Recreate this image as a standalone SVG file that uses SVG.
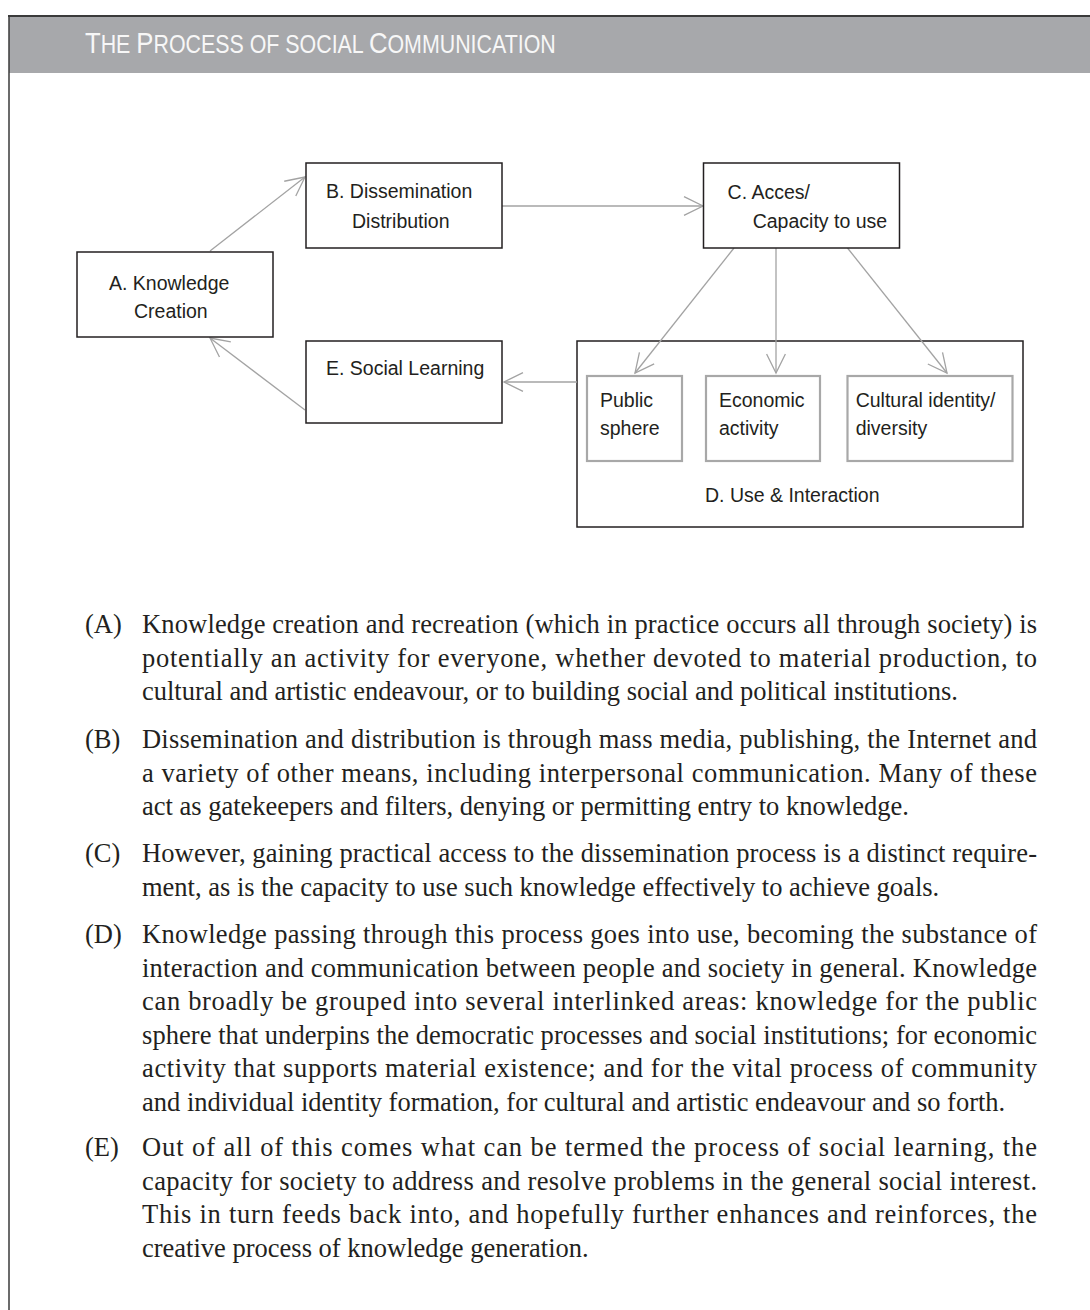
<svg xmlns="http://www.w3.org/2000/svg" width="1090" height="1310" viewBox="0 0 1090 1310">
<style>
.frame{stroke:#3a3a3a;fill:none}
.band{fill:#a7a8ab}
.title{font-family:"Liberation Sans",Arial,sans-serif;fill:#f7f7f7;font-size:25px}
.box{fill:#fff;stroke:#231f20;stroke-width:1.5}
.group{fill:none;stroke:#231f20;stroke-width:1.5}
.sub{fill:#fff;stroke:#a8a8a8;stroke-width:2.2}
.lbl{font-family:"Liberation Sans",Arial,sans-serif;font-size:19.5px;fill:#231f20}
.conn{stroke:#a3a3a3;stroke-width:1.3;fill:none}
.body{font-family:"Liberation Serif","Times New Roman",serif;font-size:26.5px;fill:#231f20}
</style>
<defs>
<marker id="arr" markerUnits="userSpaceOnUse" markerWidth="22" markerHeight="22" viewBox="0 0 22 22" refX="21" refY="11" orient="auto" overflow="visible">
<path d="M2,1.6 L21,11 L2,20.4" fill="none" stroke="#a3a3a3" stroke-width="1.3"/>
</marker>
</defs>
<rect width="1090" height="1310" fill="#fff"/>
<g id="header">
<rect class="band" x="9" y="17" width="1081" height="56"/>
<line class="frame" x1="8" y1="16" x2="1090" y2="16" stroke-width="2"/>
<line class="frame" x1="9" y1="16" x2="9" y2="1310" stroke-width="1.5"/>
<text class="title" transform="translate(85,53.3) scale(0.856,1)" x="0" y="0"><tspan font-size="30">T</tspan>HE <tspan font-size="30">P</tspan>ROCESS OF SOCIAL <tspan font-size="30">C</tspan>OMMUNICATION</text>
</g>
<g id="node-D">
<rect class="group" x="577" y="341" width="446" height="186"/>
<text class="lbl" x="705" y="501.7">D. Use &amp; Interaction</text>
</g>
<g id="connectors">
<line class="conn" x1="210" y1="251" x2="305" y2="177" marker-end="url(#arr)"/>
<line class="conn" x1="502" y1="206" x2="703" y2="206" marker-end="url(#arr)"/>
<line class="conn" x1="734" y1="248" x2="635" y2="373" marker-end="url(#arr)"/>
<line class="conn" x1="776" y1="248" x2="776" y2="373" marker-end="url(#arr)"/>
<line class="conn" x1="847.5" y1="248" x2="947" y2="373" marker-end="url(#arr)"/>
<line class="conn" x1="577" y1="382" x2="504" y2="382" marker-end="url(#arr)"/>
<line class="conn" x1="305" y1="410" x2="210" y2="338" marker-end="url(#arr)"/>
</g>
<g id="node-A">
<rect class="box" x="77" y="252" width="196" height="85"/>
<text class="lbl" x="109" y="289.5">A. Knowledge</text>
<text class="lbl" x="134" y="318.3">Creation</text>
</g>
<g id="node-B">
<rect class="box" x="306" y="163" width="196" height="85"/>
<text class="lbl" x="326" y="198.3">B. Dissemination</text>
<text class="lbl" x="352" y="228.3">Distribution</text>
</g>
<g id="node-C">
<rect class="box" x="703.5" y="163" width="196" height="85"/>
<text class="lbl" x="727.6" y="199.3">C. Acces/</text>
<text class="lbl" x="752.7" y="228.3">Capacity to use</text>
</g>
<g id="node-public">
<rect class="sub" x="587" y="376" width="95" height="85"/>
<text class="lbl" x="600" y="406.7">Public</text>
<text class="lbl" x="600" y="435">sphere</text>
</g>
<g id="node-economic">
<rect class="sub" x="706" y="376" width="114" height="85"/>
<text class="lbl" x="719" y="406.7">Economic</text>
<text class="lbl" x="719" y="435">activity</text>
</g>
<g id="node-cultural">
<rect class="sub" x="847.5" y="376" width="165" height="85"/>
<text class="lbl" x="855.7" y="406.7">Cultural identity/</text>
<text class="lbl" x="855.7" y="435">diversity</text>
</g>
<g id="node-E">
<rect class="box" x="306" y="341" width="196" height="82"/>
<text class="lbl" x="326" y="375">E. Social Learning</text>
</g>
<g id="notes" class="body">
<text x="85" y="633">(A)</text>
<text x="142" y="633" textLength="895">Knowledge creation and recreation (which in practice occurs all through society) is</text>
<text x="142" y="666.5" textLength="895">potentially an activity for everyone, whether devoted to material production, to</text>
<text x="142" y="700">cultural and artistic endeavour, or to building social and political institutions.</text>
<text x="85" y="748">(B)</text>
<text x="142" y="748" textLength="895">Dissemination and distribution is through mass media, publishing, the Internet and</text>
<text x="142" y="781.5" textLength="895">a variety of other means, including interpersonal communication. Many of these</text>
<text x="142" y="815">act as gatekeepers and filters, denying or permitting entry to knowledge.</text>
<text x="85" y="862">(C)</text>
<text x="142" y="862" textLength="895">However, gaining practical access to the dissemination process is a distinct require-</text>
<text x="142" y="895.5">ment, as is the capacity to use such knowledge effectively to achieve goals.</text>
<text x="85" y="943">(D)</text>
<text x="142" y="943" textLength="895">Knowledge passing through this process goes into use, becoming the substance of</text>
<text x="142" y="976.5" textLength="895">interaction and communication between people and society in general. Knowledge</text>
<text x="142" y="1010" textLength="895">can broadly be grouped into several interlinked areas: knowledge for the public</text>
<text x="142" y="1043.5" textLength="895">sphere that underpins the democratic processes and social institutions; for economic</text>
<text x="142" y="1077" textLength="895">activity that supports material existence; and for the vital process of community</text>
<text x="142" y="1110.5">and individual identity formation, for cultural and artistic endeavour and so forth.</text>
<text x="85" y="1156">(E)</text>
<text x="142" y="1156" textLength="895">Out of all of this comes what can be termed the process of social learning, the</text>
<text x="142" y="1189.5" textLength="895">capacity for society to address and resolve problems in the general social interest.</text>
<text x="142" y="1223" textLength="895">This in turn feeds back into, and hopefully further enhances and reinforces, the</text>
<text x="142" y="1256.5">creative process of knowledge generation.</text>
</g>
</svg>
